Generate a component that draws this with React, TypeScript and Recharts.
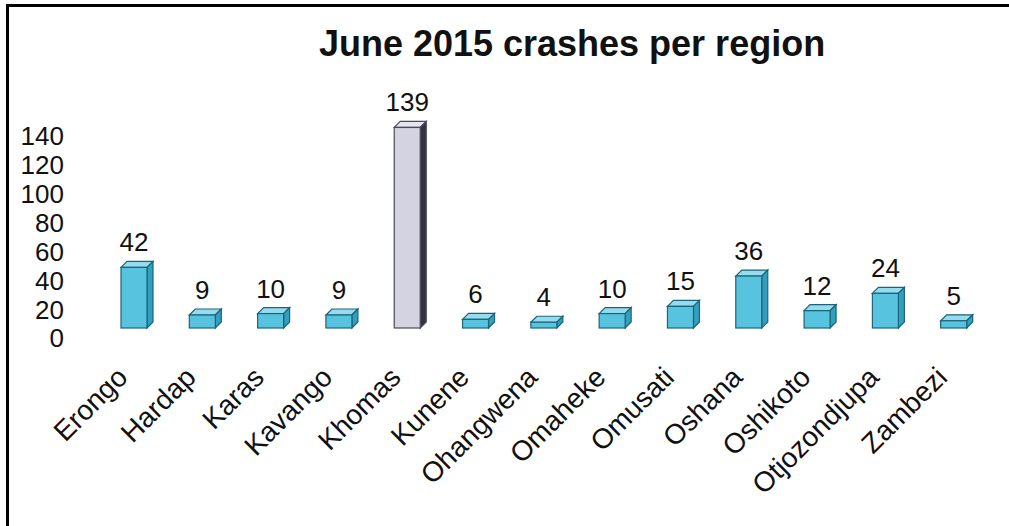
import React from "react";
import { BarChart, Bar, XAxis, YAxis, Cell, LabelList } from "recharts";

const regions = [
  "Erongo",
  "Hardap",
  "Karas",
  "Kavango",
  "Khomas",
  "Kunene",
  "Ohangwena",
  "Omaheke",
  "Omusati",
  "Oshana",
  "Oshikoto",
  "Otjozondjupa",
  "Zambezi",
];
const crashes = [42, 9, 10, 9, 139, 6, 4, 10, 15, 36, 12, 24, 5];
const yTicks = [0, 20, 40, 60, 80, 100, 120, 140];
const highlighted = "Khomas";

const data = regions.map((region, i) => ({ region, crashes: crashes[i] }));

const FONT = "'Liberation Sans', Arial, sans-serif";
const DEPTH = 6;

const CYAN = { front: "#58c3df", top: "#96dcee", side: "#339fbe", edge: "#1b6479" };
const GREY = { front: "#d3d3e1", top: "#e6e6f0", side: "#33333f", edge: "#4a4a58" };

const Bar3D = (props: any) => {
  const { x, y, width, height, payload } = props;
  if (height == null || width == null) return null;
  const c = payload.region === highlighted ? GREY : CYAN;
  const d = DEPTH;
  return (
    <g>
      <polygon
        points={`${x},${y} ${x + d},${y - d} ${x + width + d},${y - d} ${x + width},${y}`}
        fill={c.top}
        stroke={c.edge}
        strokeWidth={1.2}
      />
      <polygon
        points={`${x + width},${y} ${x + width + d},${y - d} ${x + width + d},${y + height - d} ${x + width},${y + height}`}
        fill={c.side}
        stroke={c.edge}
        strokeWidth={1.2}
      />
      <rect x={x} y={y} width={width} height={height} fill={c.front} stroke={c.edge} strokeWidth={1.2} />
    </g>
  );
};

const YTick = (props: any) => {
  const { x, y, payload } = props;
  return (
    <text x={x} y={y + 10} dy="0.36em" textAnchor="end" fontSize={26} fill="#111" fontFamily={FONT}>
      {payload.value}
    </text>
  );
};

const XTick = (props: any) => {
  const { x, y, payload } = props;
  const ax = x - 5;
  const ay = y + 51;
  return (
    <text
      x={ax}
      y={ay}
      transform={`rotate(-45, ${ax}, ${ay})`}
      textAnchor="end"
      fontSize={28}
      fill="#111"
      fontFamily={FONT}
    >
      {payload.value}
    </text>
  );
};

const ValueLabel = (props: any) => {
  const { x, y, width, value } = props;
  return (
    <text x={x + width / 2} y={y - 16} textAnchor="middle" fontSize={26} fill="#111" fontFamily={FONT}>
      {value}
    </text>
  );
};

export default function App() {
  return (
    <div
      style={{
        position: "absolute",
        left: 0,
        top: 0,
        width: 1009,
        height: 526,
        background: "#fff",
        overflow: "hidden",
        fontFamily: FONT,
      }}
    >
      <div
        style={{
          position: "absolute",
          left: 6,
          top: 4,
          width: 1100,
          height: 600,
          borderLeft: "3px solid #000",
          borderTop: "3px solid #000",
        }}
      />
      <div
        style={{
          position: "absolute",
          left: 272,
          top: 26,
          width: 600,
          textAlign: "center",
          fontSize: 36,
          lineHeight: "36px",
          fontWeight: "bold",
          color: "#111",
        }}
      >
        June 2015 crashes per region
      </div>
      <div style={{ position: "absolute", left: 0, top: 0 }}>
        <BarChart
          width={1009}
          height={526}
          data={data}
          margin={{ top: 126, right: 21, bottom: 48, left: 0 }}
          barCategoryGap={0}
        >
          <XAxis
            dataKey="region"
            axisLine={false}
            tickLine={false}
            tickSize={0}
            tickMargin={0}
            height={150}
            interval={0}
            tick={<XTick />}
          />
          <YAxis
            width={100}
            domain={[0, 140]}
            ticks={yTicks}
            axisLine={false}
            tickLine={false}
            tickSize={0}
            tickMargin={36}
            interval={0}
            tick={<YTick />}
          />
          <Bar dataKey="crashes" barSize={26} shape={<Bar3D />} isAnimationActive={false}>
            {data.map((d) => (
              <Cell key={d.region} />
            ))}
            <LabelList dataKey="crashes" content={<ValueLabel />} />
          </Bar>
        </BarChart>
      </div>
    </div>
  );
}
